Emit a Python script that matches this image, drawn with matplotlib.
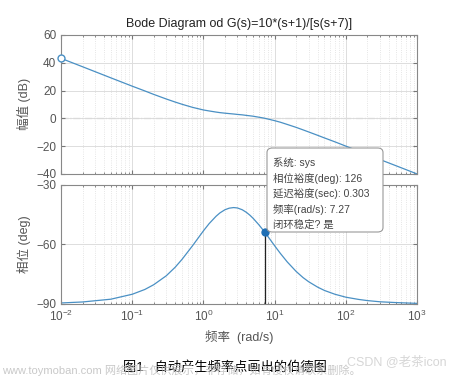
import numpy as np
import matplotlib
matplotlib.use('Agg')
import matplotlib.pyplot as plt
from matplotlib.patches import FancyBboxPatch

plt.rcParams['font.family'] = ['Liberation Sans', 'Noto Sans CJK SC', 'DejaVu Sans']

# values
freq = [0.01, 0.02, 0.05, 0.1, 0.15, 0.2, 0.3, 0.4, 0.5, 0.7, 1, 1.2, 1.5, 1.7, 2,
        2.3, 2.65, 3, 3.5, 4, 4.5, 5, 6, 7, 7.27, 8.5, 10, 12, 15, 20, 25, 30, 40,
        50, 70, 100, 150, 200, 300, 500, 1000]
mag_db = [43.1, 37.1, 29.1, 23.1, 19.7, 17.2, 13.9, 11.7, 10.1, 7.9, 6.0, 5.3, 4.5, 4.1, 3.7,
          3.4, 3.1, 2.8, 2.5, 2.1, 1.8, 1.5, 0.8, 0.2, 0.0, -0.8, -1.7, -2.8, -4.4, -6.5,
          -8.3, -9.8, -12.2, -14.1, -16.9, -20.0, -23.5, -26.0, -29.6, -34.0, -40.0]
phase_deg = [-89.5, -89.0, -87.6, -85.1, -82.7, -80.3, -75.8, -71.5, -67.5, -60.7, -53.1,
             -49.5, -45.8, -44.1, -42.5, -41.7, -41.4, -41.6, -42.5, -43.8, -45.3, -46.9,
             -50.1, -53.1, -53.9, -57.2, -60.7, -64.5, -68.8, -73.6, -76.7, -78.8, -81.5,
             -83.2, -85.1, -86.6, -87.7, -88.3, -88.9, -89.3, -89.7]
start_pt = (0.01, 43.1)
margin_pt = (7.27, -53.9)
tip_lines = ['系统: sys', '相位裕度(deg): 126', '延迟裕度(sec): 0.303',
             '频率(rad/s): 7.27', '闭环稳定? 是']

line_c = '#4a90c4'
gray = '#555555'

fig = plt.figure(figsize=(4.49, 3.79), dpi=100, facecolor='white')
ax1 = fig.add_axes([0.136, 0.541, 0.793, 0.367])
ax2 = fig.add_axes([0.136, 0.198, 0.793, 0.314])

for ax in (ax1, ax2):
    ax.set_xscale('log')
    ax.set_xlim(1e-2, 1e3)
    ax.grid(True, which='major', color='#dddddd', lw=0.7)
    ax.grid(True, which='minor', color='#dddddd', lw=0.6, ls=':')
    ax.tick_params(which='both', direction='in', top=True, right=True,
                   colors='#777777', labelcolor=gray, labelsize=8.5, length=3)
    ax.tick_params(which='minor', length=1.5)
    for s in ax.spines.values():
        s.set_color('#888888')
        s.set_linewidth(0.8)

ax1.plot(freq, mag_db, color=line_c, lw=0.9)
ax1.plot(*start_pt, 'o', mfc='white', mec=line_c, ms=5, mew=1, clip_on=False, zorder=5)
ax1.axhline(0, color='#888888', lw=0.8, ls='-.', zorder=1)
ax1.set_ylim(-40, 60)
ax1.set_yticks([-40, -20, 0, 20, 40, 60])
ax1.tick_params(labelbottom=False)
ax1.set_ylabel('幅值 (dB)', color=gray, fontsize=9)
ax1.set_title('Bode Diagram od G(s)=10*(s+1)/[s(s+7)]', fontsize=9, color='#222222', pad=6)

ax2.plot(freq, phase_deg, color=line_c, lw=0.9)
ax2.plot([margin_pt[0], margin_pt[0]], [-90, margin_pt[1]], color='#222222', lw=0.9)
ax2.plot(*margin_pt, 'o', color='#1f6fb5', ms=5)
ax2.set_ylim(-90, -30)
ax2.set_yticks([-90, -60, -30])
ax2.set_xticks([1e-2, 1e-1, 1e0, 1e1, 1e2, 1e3])
ax2.set_ylabel('相位 (deg)', color=gray, fontsize=9)
ax2.set_xlabel('频率  (rad/s)', color=gray, fontsize=9)

# data tip box
box = FancyBboxPatch((267 / 449, 1 - 232 / 379), 116 / 449, 84 / 379,
                     boxstyle='round,pad=0,rounding_size=0.012', transform=fig.transFigure,
                     fc='white', ec='#999999', lw=0.8, zorder=10)
fig.patches.append(box)
for i, t in enumerate(tip_lines):
    fig.text(273 / 449, 1 - (163 + i * 15.5) / 379, t, fontsize=7.5, color='#444444',
             va='center', zorder=11)

fig.text(0.5, 1 - 367 / 379, '图1   自动产生频率点画出的伯德图', ha='center', va='center',
         fontsize=9.5, color='black')
fig.text(0.005, 1 - 370 / 379, 'www.toymoban.com 网络图片仅供展示，非存储，如有侵权请联系删除。',
         fontsize=8, color='#bbbbbb', alpha=0.8, va='center')
fig.text(0.995, 1 - 362 / 379, 'CSDN @老茶icon', ha='right', fontsize=9, color='#cccccc',
         alpha=0.8, va='center')

fig.savefig('out.png', dpi=100)
